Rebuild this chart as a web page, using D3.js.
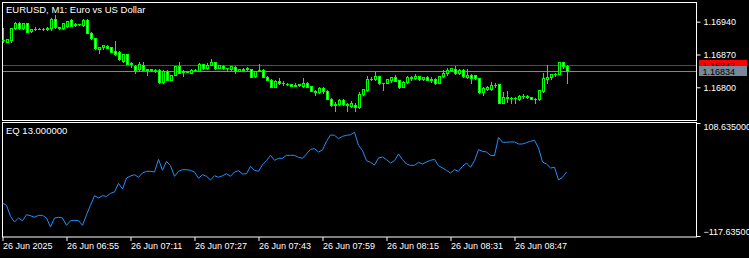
<!DOCTYPE html>
<html>
<head>
<meta charset="utf-8">
<script src="https://cdn.jsdelivr.net/npm/d3@7"></script>
<style>
  html, body { margin: 0; padding: 0; background: #000; }
  svg { display: block; }
  text { font-family: "Liberation Sans", Arial, sans-serif; fill: #fff; }
</style>
</head>
<body>
<svg id="chart" width="749" height="258"></svg>
<script>
// EURUSD M1 bars, 06:39 .. 09:00
const open = [
  1.16900,1.16897,1.16902,1.16926,1.16938,1.16926,1.16937,1.16921,1.16924,1.16925,
  1.16925,1.16924,1.16926,1.16945,1.16928,1.16926,1.16930,1.16943,1.16934,1.16935,
  1.16932,1.16944,1.16916,1.16905,1.16882,1.16887,1.16889,1.16886,1.16878,1.16876,
  1.16857,1.16870,1.16850,1.16846,1.16838,1.16848,1.16837,1.16838,1.16837,1.16837,
  1.16811,1.16835,1.16816,1.16827,1.16845,1.16832,1.16834,1.16831,1.16837,1.16835,
  1.16849,1.16841,1.16848,1.16854,1.16842,1.16846,1.16841,1.16838,1.16844,1.16835,
  1.16836,1.16838,1.16839,1.16824,1.16835,1.16837,1.16823,1.16816,1.16801,1.16814,
  1.16809,1.16808,1.16806,1.16803,1.16805,1.16802,1.16810,1.16802,1.16793,1.16789,
  1.16798,1.16793,1.16775,1.16762,1.16764,1.16773,1.16764,1.16760,1.16763,1.16758,
  1.16785,1.16795,1.16817,1.16817,1.16824,1.16809,1.16810,1.16816,1.16822,1.16815,
  1.16801,1.16811,1.16822,1.16819,1.16824,1.16817,1.16822,1.16816,1.16817,1.16810,
  1.16824,1.16830,1.16836,1.16839,1.16830,1.16837,1.16821,1.16827,1.16826,1.16819,
  1.16791,1.16796,1.16797,1.16804,1.16806,1.16767,1.16779,1.16778,1.16778,1.16776,
  1.16782,1.16782,1.16779,1.16776,1.16774,1.16792,1.16818,1.16821,1.16828,1.16829,
  1.16853,1.16846
];
const high = [
  1.16926,1.16904,1.16927,1.16939,1.16940,1.16938,1.16938,1.16925,1.16928,1.16926,
  1.16926,1.16928,1.16947,1.16954,1.16929,1.16938,1.16942,1.16945,1.16938,1.16936,
  1.16945,1.16945,1.16917,1.16906,1.16887,1.16891,1.16890,1.16887,1.16899,1.16878,
  1.16871,1.16872,1.16855,1.16847,1.16854,1.16854,1.16839,1.16839,1.16838,1.16838,
  1.16836,1.16836,1.16827,1.16846,1.16854,1.16837,1.16835,1.16838,1.16838,1.16851,
  1.16850,1.16851,1.16860,1.16855,1.16848,1.16847,1.16842,1.16846,1.16845,1.16840,
  1.16841,1.16843,1.16840,1.16835,1.16850,1.16838,1.16824,1.16817,1.16815,1.16819,
  1.16814,1.16810,1.16807,1.16810,1.16807,1.16819,1.16812,1.16803,1.16794,1.16800,
  1.16800,1.16794,1.16777,1.16769,1.16774,1.16774,1.16767,1.16771,1.16767,1.16789,
  1.16797,1.16824,1.16821,1.16833,1.16825,1.16810,1.16818,1.16822,1.16826,1.16816,
  1.16813,1.16824,1.16824,1.16828,1.16825,1.16822,1.16824,1.16821,1.16819,1.16825,
  1.16837,1.16841,1.16842,1.16845,1.16838,1.16838,1.16838,1.16829,1.16827,1.16820,
  1.16800,1.16802,1.16812,1.16810,1.16807,1.16791,1.16793,1.16779,1.16779,1.16783,
  1.16785,1.16783,1.16780,1.16777,1.16795,1.16830,1.16848,1.16829,1.16831,1.16854,
  1.16854,1.16847
];
const low = [
  1.16897,1.16896,1.16897,1.16925,1.16924,1.16925,1.16918,1.16917,1.16922,1.16924,
  1.16923,1.16923,1.16922,1.16927,1.16925,1.16925,1.16929,1.16930,1.16931,1.16934,
  1.16931,1.16915,1.16904,1.16882,1.16873,1.16881,1.16883,1.16875,1.16869,1.16859,
  1.16854,1.16849,1.16844,1.16831,1.16837,1.16836,1.16826,1.16835,1.16833,1.16810,
  1.16810,1.16815,1.16815,1.16826,1.16830,1.16824,1.16832,1.16830,1.16835,1.16834,
  1.16840,1.16840,1.16847,1.16840,1.16841,1.16840,1.16835,1.16837,1.16830,1.16834,
  1.16835,1.16837,1.16822,1.16823,1.16834,1.16822,1.16815,1.16800,1.16800,1.16808,
  1.16805,1.16805,1.16802,1.16802,1.16803,1.16800,1.16800,1.16792,1.16784,1.16788,
  1.16787,1.16774,1.16761,1.16750,1.16763,1.16763,1.16750,1.16759,1.16750,1.16756,
  1.16784,1.16793,1.16816,1.16816,1.16808,1.16794,1.16809,1.16812,1.16813,1.16798,
  1.16800,1.16810,1.16816,1.16817,1.16816,1.16815,1.16815,1.16812,1.16807,1.16809,
  1.16823,1.16826,1.16835,1.16829,1.16829,1.16823,1.16819,1.16810,1.16818,1.16787,
  1.16784,1.16794,1.16795,1.16800,1.16766,1.16766,1.16769,1.16766,1.16766,1.16773,
  1.16778,1.16778,1.16774,1.16766,1.16773,1.16789,1.16810,1.16817,1.16824,1.16828,
  1.16841,1.16809
];
const close = [
  1.16902,1.16903,1.16926,1.16938,1.16926,1.16937,1.16919,1.16924,1.16925,1.16925,
  1.16924,1.16926,1.16945,1.16928,1.16926,1.16938,1.16942,1.16931,1.16935,1.16935,
  1.16944,1.16915,1.16905,1.16883,1.16887,1.16890,1.16884,1.16876,1.16871,1.16860,
  1.16870,1.16850,1.16851,1.16837,1.16849,1.16837,1.16838,1.16837,1.16837,1.16811,
  1.16835,1.16816,1.16826,1.16845,1.16831,1.16834,1.16833,1.16837,1.16836,1.16850,
  1.16841,1.16848,1.16855,1.16841,1.16847,1.16841,1.16841,1.16845,1.16835,1.16839,
  1.16840,1.16842,1.16823,1.16835,1.16836,1.16823,1.16816,1.16801,1.16814,1.16809,
  1.16810,1.16806,1.16803,1.16804,1.16806,1.16810,1.16801,1.16793,1.16789,1.16799,
  1.16793,1.16775,1.16762,1.16764,1.16773,1.16764,1.16762,1.16766,1.16757,1.16785,
  1.16796,1.16817,1.16818,1.16824,1.16809,1.16810,1.16817,1.16821,1.16814,1.16801,
  1.16812,1.16823,1.16820,1.16824,1.16817,1.16821,1.16816,1.16817,1.16810,1.16824,
  1.16831,1.16837,1.16841,1.16830,1.16837,1.16824,1.16826,1.16819,1.16819,1.16791,
  1.16799,1.16801,1.16804,1.16805,1.16767,1.16779,1.16778,1.16778,1.16777,1.16782,
  1.16781,1.16779,1.16775,1.16774,1.16794,1.16819,1.16821,1.16828,1.16829,1.16853,
  1.16846,1.16834
];
// EQ indicator values, one per bar
const equity = [
  -51.6,-56.2,-78.2,-89.6,-81.6,-87.0,-75.0,-77.0,-80.0,-76.3,
  -76.3,-81.6,-99.6,-81.6,-80.3,-81.6,-96.3,-87.0,-86.3,-87.0,
  -96.3,-75.0,-56.2,-37.0,-41.5,-37.0,-38.3,-32.2,-29.5,-12.2,
  -23.5,-1.5,2.5,5.1,-0.1,8.5,11.9,11.9,10.5,35.9,
  13.9,31.9,23.1,1.9,11.9,15.1,15.1,13.9,10.5,-2.1,
  5.1,1.9,-5.5,3.1,-0.1,3.1,7.1,1.9,10.5,13.1,
  6.5,7.1,21.9,13.9,11.9,25.1,33.2,43.9,33.9,37.9,
  37.9,43.9,43.9,43.9,39.9,37.9,46.6,55.9,57.2,50.6,
  54.6,72.0,84.6,84.0,77.2,81.9,84.0,85.2,89.9,64.0,
  53.2,33.2,29.9,24.5,38.6,40.6,35.2,28.5,33.2,46.6,
  35.2,26.5,23.9,23.9,29.9,26.5,30.5,33.9,35.9,23.1,
  18.5,13.9,8.5,15.1,11.9,21.9,28.5,19.9,33.2,55.2,
  51.9,50.6,43.9,43.3,80.0,70.0,70.0,70.7,70.7,66.6,
  66.6,69.3,72.0,74.0,58.6,30.5,26.5,18.5,19.9,-5.5,
  -0.1,10.5
];
const timeTickIdx = [0, 16, 32, 48, 64, 80, 96, 112, 128];
const timeTickLabels = ["26 Jun 2025", "26 Jun 06:55", "26 Jun 07:11", "26 Jun 07:27",
  "26 Jun 07:43", "26 Jun 07:59", "26 Jun 08:15", "26 Jun 08:31", "26 Jun 08:47"];
const priceTicks = [1.16800, 1.16870, 1.16940];
const eqTicks = [108.635, -117.635];
const ask = 1.16847, bid = 1.16834;

const svg = d3.select('#chart');
const bull = '#00ff00';
const fontFam = '"Liberation Sans", Arial, sans-serif';

const x = d3.scaleLinear().domain([0, open.length - 1]).range([3, 3 + 4 * (open.length - 1)]);
const yP = d3.scaleLinear().domain([1.16800, 1.16940]).range([87.3, 21.7]);
const yE = d3.scaleLinear().domain([-117.635, 108.635]).range([236, 123]);

svg.append('rect').attr('width', 749).attr('height', 258).attr('fill', '#000');

// panel frames
svg.append('rect').attr('x', 2.5).attr('y', 2.5).attr('width', 694).attr('height', 118)
  .attr('fill', 'none').attr('stroke', '#fff');
svg.append('rect').attr('x', 2.5).attr('y', 122.5).attr('width', 694).attr('height', 114.5)
  .attr('fill', 'none').attr('stroke', '#fff');

// ask / bid lines
svg.append('line').attr('x1', 3).attr('x2', 696)
  .attr('y1', Math.round(yP(ask)) + 0.5).attr('y2', Math.round(yP(ask)) + 0.5)
  .attr('stroke', '#ff0000');
svg.append('line').attr('x1', 3).attr('x2', 696)
  .attr('y1', Math.round(yP(bid)) + 0.5).attr('y2', Math.round(yP(bid)) + 0.5)
  .attr('stroke', '#778899');

// candles
const g = svg.append('g').attr('shape-rendering', 'crispEdges');
open.forEach((o, i) => {
  const c = close[i];
  const cx = Math.round(x(i));
  const hy = Math.round(yP(high[i])), ly = Math.round(yP(low[i]));
  g.append('rect').attr('x', cx).attr('y', hy).attr('width', 1)
    .attr('height', Math.max(1, ly - hy + 1)).attr('fill', bull);
  const top = Math.round(yP(Math.max(o, c))), bot = Math.round(yP(Math.min(o, c)));
  const h = bot - top + 1;
  g.append('rect').attr('x', cx - 1).attr('y', top).attr('width', 3).attr('height', h)
    .attr('fill', bull);
  if (h >= 3) {
    g.append('rect').attr('x', cx).attr('y', top + 1).attr('width', 1).attr('height', h - 2)
      .attr('fill', c >= o ? '#000' : '#fff');
  }
});

// price scale
const pAxis = svg.append('g').attr('transform', 'translate(696.5,0)')
  .call(d3.axisRight(yP).tickValues(priceTicks).tickFormat(d3.format('.5f')).tickSize(4).tickPadding(3));
pAxis.select('.domain').remove();
pAxis.selectAll('line').attr('stroke', '#fff');
pAxis.selectAll('text').attr('fill', '#fff').attr('font-size', 9).attr('font-family', fontFam);

// price labels (bid box sits over the ask box)
[[ask, '#ff0000'], [bid, '#778899']].forEach(([p, col]) => {
  const cy = Math.round(yP(p));
  svg.append('rect').attr('x', 699).attr('y', cy - 5).attr('width', 48).attr('height', 10)
    .attr('fill', col);
  svg.append('text').attr('x', 702.5).attr('y', cy + 3.5).attr('font-size', 9)
    .style('fill', '#000').text(d3.format('.5f')(p));
});

svg.append('text').attr('x', 6).attr('y', 13).attr('font-size', 9.5)
  .text('EURUSD, M1:  Euro vs US Dollar');

// equity
svg.append('path').datum(equity)
  .attr('d', d3.line().x((d, i) => x(i) - 0.5).y(d => yE(d)))
  .attr('fill', 'none').attr('stroke', '#1e90ff').attr('stroke-width', 1);

svg.append('text').attr('x', 6).attr('y', 134).attr('font-size', 9.5).text('EQ 13.000000');

const eAxis = svg.append('g').attr('transform', 'translate(696.5,0)')
  .call(d3.axisRight(yE).tickValues(eqTicks).tickFormat(d3.format('.6f')).tickSize(4).tickPadding(3));
eAxis.select('.domain').remove();
eAxis.selectAll('line').attr('stroke', '#fff');
eAxis.selectAll('text').attr('fill', '#fff').attr('font-size', 9).attr('font-family', fontFam)
  .attr('dy', d => d > 0 ? '0.72em' : '-0.15em');

// time scale
const tAxis = svg.append('g').attr('transform', 'translate(-0.5,237)')
  .call(d3.axisBottom(x).tickValues(timeTickIdx).tickSize(4).tickPadding(2)
    .tickFormat((d, i) => timeTickLabels[i]));
tAxis.select('.domain').remove();
tAxis.selectAll('line').attr('stroke', '#fff');
tAxis.selectAll('text').attr('fill', '#fff').attr('font-size', 9).attr('font-family', fontFam)
  .attr('text-anchor', 'start').attr('x', 0);
</script>
</body>
</html>
